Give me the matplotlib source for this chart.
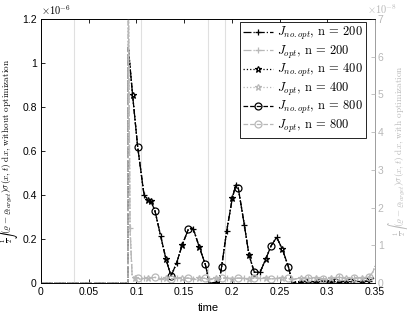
import numpy as np
import matplotlib.pyplot as plt
from matplotlib.ticker import FuncFormatter

plt.rcParams['mathtext.fontset'] = 'cm'
plt.rcParams['font.family'] = ['Liberation Sans', 'DejaVu Sans']
plt.rcParams['axes.unicode_minus'] = False

# --- datos ---
# J sin optimizacion, eje izquierdo (unidades de 1e-6)
t_noopt = [0.0, 0.0912, 0.0915, 0.096, 0.1013, 0.108, 0.1125, 0.115, 0.1195,
           0.1254, 0.131, 0.1363, 0.1422, 0.148, 0.1544, 0.158, 0.1597, 0.166,
           0.1722, 0.1765, 0.183, 0.1865, 0.1893, 0.1946, 0.2005, 0.204, 0.2068,
           0.2131, 0.218, 0.2236, 0.2296, 0.2355, 0.241, 0.247, 0.253, 0.2593,
           0.2634, 0.268, 0.272, 0.276, 0.280, 0.284, 0.288, 0.292, 0.296, 0.300,
           0.304, 0.308, 0.312, 0.316, 0.320, 0.324, 0.328, 0.332, 0.336, 0.340,
           0.344, 0.348, 0.35]
J_noopt = [0.0, 0.0, 1.07, 0.855, 0.62, 0.40, 0.377, 0.374, 0.327,
           0.214, 0.108, 0.032, 0.092, 0.173, 0.244, 0.25, 0.245, 0.162,
           0.085, 0.0, 0.0, 0.0, 0.074, 0.236, 0.385, 0.445, 0.43,
           0.264, 0.127, 0.049, 0.049, 0.108, 0.168, 0.208, 0.153, 0.074,
           0.0, 0.006, 0.004, 0.008, 0.005, 0.007, 0.004, 0.006, 0.009, 0.005,
           0.007, 0.006, 0.004, 0.008, 0.006, 0.005, 0.009, 0.007, 0.006, 0.008,
           0.01, 0.02, 0.03]

# tiempos de los marcadores de cada n
marcas_200 = [0.108, 0.1254, 0.1422, 0.1597, 0.1765, 0.1946, 0.204, 0.2131,
              0.2296, 0.247, 0.2634, 0.280, 0.296, 0.312, 0.328, 0.344]
marcas_400 = [0.096, 0.1125, 0.115, 0.131, 0.148, 0.166, 0.183, 0.2005, 0.218,
              0.2355, 0.253, 0.272, 0.288, 0.304, 0.320, 0.336]
marcas_800 = [0.1013, 0.1195, 0.1363, 0.1544, 0.1722, 0.1893, 0.2068, 0.2236,
              0.241, 0.2593, 0.276, 0.292, 0.308, 0.324, 0.340]

# J con optimizacion, eje derecho (unidades de 1e-8)
t_opt = [0.0, 0.0912, 0.0914, 0.0933, 0.0955, 0.098, 0.1013, 0.104, 0.108,
         0.1125, 0.1195, 0.1254, 0.131, 0.1363, 0.1422, 0.148, 0.1544, 0.1597,
         0.166, 0.1722, 0.1765, 0.183, 0.1893, 0.1946, 0.2005, 0.2068, 0.2131,
         0.218, 0.2236, 0.2296, 0.2355, 0.241, 0.247, 0.253, 0.2593, 0.2634,
         0.272, 0.280, 0.288, 0.296, 0.304, 0.312, 0.320, 0.328, 0.336, 0.344,
         0.348, 0.35]
J_opt = [0.0, 0.0, 8.5, 1.46, 0.2, 0.12, 0.14, 0.1, 0.13,
         0.12, 0.15, 0.11, 0.13, 0.1, 0.14, 0.12, 0.13, 0.11,
         0.14, 0.12, 0.1, 0.13, 0.12, 0.14, 0.11, 0.13, 0.12,
         0.1, 0.14, 0.12, 0.13, 0.11, 0.12, 0.14, 0.12, 0.1,
         0.13, 0.12, 0.14, 0.11, 0.13, 0.15, 0.12, 0.14, 0.13, 0.16,
         0.3, 0.45]
marcas_opt_200 = [0.0933, 0.108, 0.1254, 0.1422, 0.1597, 0.1765, 0.1946, 0.2131,
                  0.2296, 0.247, 0.2634, 0.280, 0.296, 0.312, 0.328, 0.344]
marcas_opt_400 = [0.098, 0.1125, 0.131, 0.148, 0.166, 0.183, 0.2005, 0.218,
                  0.2355, 0.253, 0.272, 0.288, 0.304, 0.320, 0.336]
marcas_opt_800 = [0.1013, 0.1195, 0.1363, 0.1544, 0.1722, 0.1893, 0.2068, 0.2236,
                  0.241, 0.2593, 0.280, 0.296, 0.312, 0.328, 0.344]

lineas_verticales = [0.035, 0.105, 0.175, 0.1925]
gris = '0.72'

fig = plt.figure(figsize=(4.07, 3.16), dpi=100)
ax = fig.add_axes([0.1007, 0.1044, 0.8206, 0.8354])
ax2 = ax.twinx()

for xv in lineas_verticales:
    ax.axvline(xv, color='0.88', lw=0.8, zorder=0)


def indices(t, marcas):
    return [t.index(m) for m in marcas]


estilos = [('-.', '+', 5, '200', marcas_200, marcas_opt_200),
           (':', '*', 5, '400', marcas_400, marcas_opt_400),
           ('--', 'o', 5, '800', marcas_800, marcas_opt_800)]

handles = []
for ls, mk, ms, n, m_no, m_op in estilos:
    h1, = ax.plot(t_noopt, J_noopt, ls=ls, color='k', lw=0.9, marker=mk, ms=ms,
                  mfc='none', mec='k', mew=0.9, markevery=indices(t_noopt, m_no),
                  label=r'$J_{no.opt}$, n = ' + n)
    h2, = ax2.plot(t_opt, J_opt, ls=ls, color=gris, lw=0.9, marker=mk, ms=ms,
                   mfc='none', mec=gris, mew=0.9, markevery=indices(t_opt, m_op),
                   label=r'$J_{opt}$, n = ' + n)
    handles += [h1, h2]

ax.set_xlim(0, 0.35)
ax.set_ylim(0, 1.2)
ax2.set_ylim(0, 7)
ax.set_xticks(np.arange(0, 0.351, 0.05))
ax.set_yticks(np.arange(0, 1.21, 0.2))
ax2.set_yticks(range(8))
fmt = FuncFormatter(lambda v, p: f'{v:g}')
ax.xaxis.set_major_formatter(fmt)
ax.yaxis.set_major_formatter(fmt)

ax.tick_params(direction='in', length=3, width=0.6, labelsize=7.5, top=True,
               right=False, pad=3)
ax2.tick_params(direction='in', length=3, width=0.6, labelsize=7.5, colors=gris,
                pad=2)
for s in ax.spines.values():
    s.set_linewidth(0.6)
for s in ax2.spines.values():
    s.set_linewidth(0.6)
ax2.spines['right'].set_color(gris)

ax.text(0.0, 1.006, r'$\times10^{-6}$', transform=ax.transAxes, fontsize=7.5,
        ha='left', va='bottom')
ax2.text(0.975, 1.01, r'$\times10^{-8}$', transform=ax.transAxes, fontsize=7.5,
         ha='left', va='bottom', color=gris)

ax.set_xlabel('time', fontsize=8, labelpad=4)
ax.set_ylabel(r'$\frac{1}{2}\int(\varrho-\varrho_{target})\sigma(x,t)$ d$x$, without optimization',
              family='cmr10', fontsize=6.6)
ax2.set_ylabel(r'$\frac{1}{2}\int(\varrho-\varrho_{target})\sigma(x,t)$ d$x$, with optimization',
               family='cmr10', fontsize=6.6, color=gris)
ax.yaxis.set_label_coords(-0.064, 0.5)
ax2.yaxis.set_label_coords(1.032, 0.5)

leg = ax2.legend(handles=handles, loc='upper right', bbox_to_anchor=(0.973, 0.989),
                 prop={'family': 'cmr10', 'size': 9}, fancybox=False,
                 edgecolor='k', framealpha=1, handlelength=2.4, handletextpad=0.3,
                 borderpad=0.25, labelspacing=0.12, borderaxespad=0)
leg.get_frame().set_linewidth(0.6)

fig.savefig('out.png', dpi=100)
